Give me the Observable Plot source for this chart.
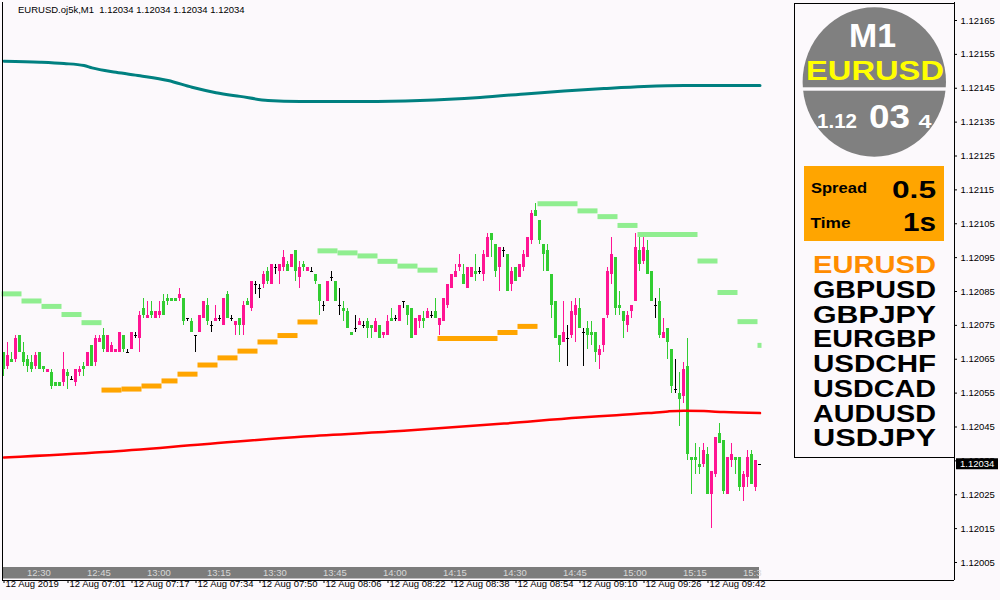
<!DOCTYPE html>
<html><head><meta charset="utf-8">
<script src="https://cdn.jsdelivr.net/npm/d3@7"></script>
<script src="https://cdn.jsdelivr.net/npm/@observablehq/plot@0.6"></script>
<style>
html,body{margin:0;padding:0;background:#fcf9fc;}
svg text{white-space:pre;}
</style></head><body><div id="chart"></div>
<script>
// ---- data: M1 candles, values in points above 1.12000 (price = 1.12 + pts/100000)
const open = [67,63,65,65,72,67,65,64,63,67, 63,61,61,58,58,58,61,59,58,61, 63,63,69,64,70,72,67,67,67,67,
 72,67,68,72,71,80,77,79,77,78, 82,83,83,83,83,83,77,76,72,73, 77,81,75,76,77,75,84,77,75,77,
 75,82,80,87,86,87,91,87,92,91, 92,93,92,97,89,93,91,91,90,87, 81,82,89,88,81,80,79,73,74,75,
 75,76,75,73,75,72,72,77,77,76, 82,81,80,72,76,77,77,78,79,75, 76,81,86,89,92,90,86,89,91,91,
 90,95,102,99,92,97,96,87,92,89, 92,95,100,109,106,99,97,90,82,72, 70,71,72,78,80,73,74,73,73,66,
 69,78,90,95,81,79,75,79,82,97, 94,97,91,81,82,71,74,68,56,55, 54,63,36,36,34,34,37,25,31,43,
 41,25,35,36,36,27,30,37,27,34];
const high = [67,70,67,72,72,70,66,66,67,67, 63,62,62,58,58,67,62,60,62,63, 64,67,69,72,72,74,72,70,68,73,
 72,68,73,73,79,83,82,82,79,82, 84,84,83,83,86,83,77,77,72,78, 82,83,76,81,78,83,85,78,76,77,
 82,83,88,88,87,91,92,93,93,93, 97,94,96,97,94,94,92,92,90,87, 82,88,91,88,86,82,80,73,78,77,
 76,77,75,77,75,73,78,80,78,81, 82,81,80,77,78,79,80,79,83,77, 83,87,90,93,96,93,92,92,96,92,
 97,102,102,99,98,98,96,92,92,93, 97,101,109,111,106,99,99,90,82,72, 82,75,82,83,83,74,76,76,73,69,
 77,92,101,95,85,79,79,81,102,101, 101,100,91,83,86,77,74,68,65,61, 64,71,36,40,39,40,39,32,42,46,
 41,36,40,36,36,32,38,38,35,34];
const low = [60,62,64,64,67,63,61,61,62,62, 61,61,56,57,57,57,56,59,57,60, 60,63,63,63,70,67,67,67,67,67,
 67,67,68,71,67,77,77,77,77,77, 78,81,82,82,82,75,76,73,67,73, 77,75,73,76,76,75,77,76,72,72,
 72,81,79,84,83,86,87,87,90,87, 91,91,92,88,86,91,91,91,87,78, 79,82,88,82,78,76,74,72,73,75,
 74,71,71,73,71,71,72,76,76,76, 80,75,71,72,74,74,77,77,77,72, 76,80,86,89,91,87,86,89,88,90,
 88,95,95,89,85,95,85,85,88,89, 91,95,99,107,99,91,91,77,71,64, 70,63,71,70,74,63,68,69,64,62,
 67,77,87,78,78,71,73,77,82,91, 93,90,82,77,71,71,65,55,55,45, 52,35,25,31,31,33,25,15,30,40,
 25,25,33,31,26,23,27,28,26,34];
const close = [62,66,64,71,67,64,63,62,66,62, 62,62,57,57,57,62,60,59,62,62, 62,67,63,71,71,68,72,69,68,73,
 68,67,73,72,78,78,78,78,79,79, 78,82,82,82,84,76,77,73,72,78, 82,76,75,77,77,83,77,77,76,75,
 81,81,88,87,86,90,88,93,92,93, 95,91,96,91,92,92,92,91,88,82, 81,88,89,82,81,79,74,72,74,76,
 75,74,74,76,71,73,76,76,77,81, 82,78,71,77,78,76,79,78,77,77, 83,87,90,91,93,87,92,92,90,91,
 96,101,100,91,98,97,85,91,88,93, 96,101,108,107,100,96,91,81,71,69, 73,71,79,81,74,73,72,72,67,68,
 77,91,96,80,80,76,78,81,98,93, 98,90,82,81,72,73,70,57,56,53, 62,37,35,35,33,38,25,32,42,40,
 26,36,37,35,27,31,36,28,35,34];

// moving averages: [bar index, price]
const tealMA = [[0,1.121530],[9,1.121527],[15,1.121523],[20,1.121517],[22,1.121510],[28,1.121497],[34,1.121487],
 [41,1.121473],[47,1.121453],[53,1.121437],[59,1.121426],[66,1.121414],[74,1.121411],[90,1.121411],
 [104,1.121414],[119,1.121423],[131,1.121434],[140,1.121442],[150,1.121449],[160,1.121455],[170,1.121458],[189,1.121458]];
const redMA = [[0,1.120360],[25,1.120376],[50,1.120399],[75,1.120422],[100,1.120439],[125,1.120460],[144,1.120478],
 [152,1.120484],[161,1.120491],[166,1.120496],[170,1.120498],[175,1.120497],[180,1.120494],[189,1.120491]];

// step levels: [start bar, end bar, price]
const greenLevels = [[0,5,1.120843],[5,10,1.120822],[10,15,1.120806],[15,20,1.120782],[20,25,1.120758],
 [79,84,1.120970],[84,89,1.120964],[89,94,1.120955],[94,99,1.120939],[99,104,1.120925],[104,109,1.120913],
 [134,144,1.121109],[144,149,1.121088],[149,154,1.121071],[154,159,1.121045],[159,174,1.121018],
 [174,179,1.120940],[179,184,1.120847],[184,189,1.120761],[189,190,1.120691]];
const orangeLevels = [[25,30,1.120559],[30,35,1.120562],[35,40,1.120571],[40,44,1.120586],[44,49,1.120606],
 [49,54,1.120633],[54,59,1.120654],[59,64,1.120674],[64,69,1.120701],[69,74,1.120720],[74,79,1.120760],
 [109,124,1.120711],[124,129,1.120729],[129,134,1.120747]];

// axes
const yTicks = [1.12005,1.12015,1.12025,1.12035,1.12045,1.12055,1.12065,1.12075,1.12085,1.12095,
 1.12105,1.12115,1.12125,1.12135,1.12145,1.12155,1.12165];
const xTickBars = [0,16,32,48,64,80,96,112,128,144,160,176];
const xTickLabels = ["12 Aug 2019","12 Aug 07:01","12 Aug 07:17","12 Aug 07:34","12 Aug 07:50","12 Aug 08:06",
 "12 Aug 08:22","12 Aug 08:38","12 Aug 08:54","12 Aug 09:10","12 Aug 09:26","12 Aug 09:42"];
const bandBars = [6,21,36,51,65,80,95,110,125,140,155,170,185];
const bandLabels = ["12:30","12:45","13:00","13:15","13:30","13:45","14:00","14:15","14:30","14:45","15:00","15:15","15:3"];

const symbols = ["EURUSD","GBPUSD","GBPJPY","EURGBP","USDCHF","USDCAD","AUDUSD","USDJPY"];
const titleText = "EURUSD.oj5k,M1  1.12034 1.12034 1.12034 1.12034";
const lastPrice = 1.12034;

// ---- build
const BASE = 1.12, PT = 1e-5;
const bars = open.map((o,i)=>({i, raw:o, rawc:close[i], open:BASE+o*PT, high:BASE+high[i]*PT, low:BASE+low[i]*PT, close:BASE+close[i]*PT}));
const up = bars.filter(d=>d.rawc>d.raw), dn = bars.filter(d=>d.rawc<d.raw), dj = bars.filter(d=>d.rawc===d.raw);
const PINK="#ff1493", GREEN="#32cd32", LGREEN="#90ee90", ORANGE="#ffa500";
const segs = a => a.map(([s,e,v])=>({s,e,v}));
const FONT = "Liberation Sans, Arial, sans-serif";

const chart = Plot.plot({
  width:1000, height:600,
  marginLeft:2, marginRight:46, marginTop:2, marginBottom:20,
  x:{type:"linear", domain:[-0.375,237.625], axis:null},
  y:{domain:[1.11999686,1.12170314], axis:null},
  style:{background:"#fcf9fc", fontFamily:FONT, fontSize:"9.5px", color:"black"},
  marks:[
    Plot.ruleY(segs(greenLevels), {y:"v", x1:d=>d.s-0.5, x2:d=>d.e-0.5, stroke:LGREEN, strokeWidth:5}),
    Plot.ruleY(segs(orangeLevels), {y:"v", x1:d=>d.s-0.5, x2:d=>d.e-0.5, stroke:ORANGE, strokeWidth:5}),
    Plot.ruleX(up, {x:"i", y1:"low", y2:"high", stroke:PINK, dx:-0.5, shapeRendering:"crispEdges"}),
    Plot.ruleX(dn, {x:"i", y1:"low", y2:"high", stroke:GREEN, dx:-0.5, shapeRendering:"crispEdges"}),
    Plot.ruleX(dj, {x:"i", y1:"low", y2:"high", stroke:"black", dx:-0.5, shapeRendering:"crispEdges"}),
    Plot.rect(up, {x1:d=>d.i-0.375, x2:d=>d.i+0.375, y1:"open", y2:"close", fill:PINK, shapeRendering:"crispEdges"}),
    Plot.rect(dn, {x1:d=>d.i-0.375, x2:d=>d.i+0.375, y1:"open", y2:"close", fill:GREEN, shapeRendering:"crispEdges"}),
    Plot.ruleY(dj, {y:"open", x1:d=>d.i-0.375, x2:d=>d.i+0.375, stroke:"black", dx:-0.5, shapeRendering:"crispEdges"}),
    Plot.line(tealMA, {x:d=>d[0], y:d=>d[1], stroke:"#008080", strokeWidth:3, curve:"monotone-x"}),
    Plot.line(redMA, {x:d=>d[0], y:d=>d[1], stroke:"#ff0000", strokeWidth:2.5, curve:"monotone-x"}),
    Plot.ruleX([-0.375], {stroke:"black"}),
    Plot.ruleX([237.625], {stroke:"black"}),
    Plot.ruleY([1.11999686], {stroke:"black"}),
    Plot.axisY(yTicks, {anchor:"right", tickSize:2, tickPadding:4, tickFormat:d=>d.toFixed(5), fontSize:9.5}),
    Plot.axisX(xTickBars, {anchor:"bottom", tickSize:3, tickFormat:()=>"", label:null}),
    Plot.text(xTickBars, {x:d=>d, text:(d,i)=>xTickLabels[i], frameAnchor:"bottom", dy:6.5, dx:1.5, textAnchor:"start", fill:"black"})
  ]
});
document.getElementById("chart").appendChild(chart);

// ---- overlays (title, time band, info panel, price label)
const svg = d3.select(chart);
const sx = chart.scale("x").apply, sy = chart.scale("y").apply;
const g = svg.append("g").attr("font-family", FONT).attr("text-anchor","start");
g.append("text").attr("x",18).attr("y",13.3).attr("font-size","9.5px").attr("fill","black").text(titleText);

// time band
g.append("rect").attr("x",sx(-0.125)).attr("y",567).attr("width",sx(188.875)-sx(-0.125)).attr("height",11.5).attr("fill","#7c7c7c");
bandBars.forEach((b,k)=>g.append("text").attr("x",sx(b)-0.5).attr("y",576).attr("font-size","9.5px").attr("fill","#d8d8d8").text(bandLabels[k]));

// panel
g.append("rect").attr("x",794.5).attr("y",3.5).attr("width",160).attr("height",454).attr("fill","#fcf9fc").attr("stroke","black");
g.append("ellipse").attr("cx",874.3).attr("cy",82).attr("rx",71.7).attr("ry",74.7).attr("fill","#808080");
g.append("rect").attr("x",800).attr("y",87.3).attr("width",150).attr("height",3.4).attr("fill","#fcf9fc");
function t(txt,x,y,size,fill,len){
  return g.append("text").attr("x",x).attr("y",y).attr("font-size",size+"px").attr("font-weight","bold")
    .attr("fill",fill).attr("textLength",len).attr("lengthAdjust","spacingAndGlyphs").text(txt);
}
t("M1",849,46.7,33.5,"white",47);
t("EURUSD",806,80,27,"#ffff00",138);
t("1.12",817,128,21,"white",40);
t("03",869,128,34,"white",41);
t("4",918.5,128,19,"white",13);
g.append("rect").attr("x",804).attr("y",166).attr("width",140).attr("height",75).attr("fill",ORANGE);
t("Spread",811,193,15.5,"black",56);
t("0.5",892,197.5,24,"black",44);
t("Time",810.5,228.3,15.5,"black",40);
t("1s",903,231,26,"black",33);
symbols.forEach((s,k)=>t(s,813,273.3+24.7*k,24,k===0?"#ff8c00":"black",123));

// current price label
const py = sy(lastPrice);
g.append("rect").attr("x",956).attr("y",py-5.5).attr("width",42).attr("height",11).attr("fill","black");
g.append("text").attr("x",960).attr("y",py+3.5).attr("font-size","9.5px").attr("fill","white").text(lastPrice.toFixed(5));
</script></body></html>
